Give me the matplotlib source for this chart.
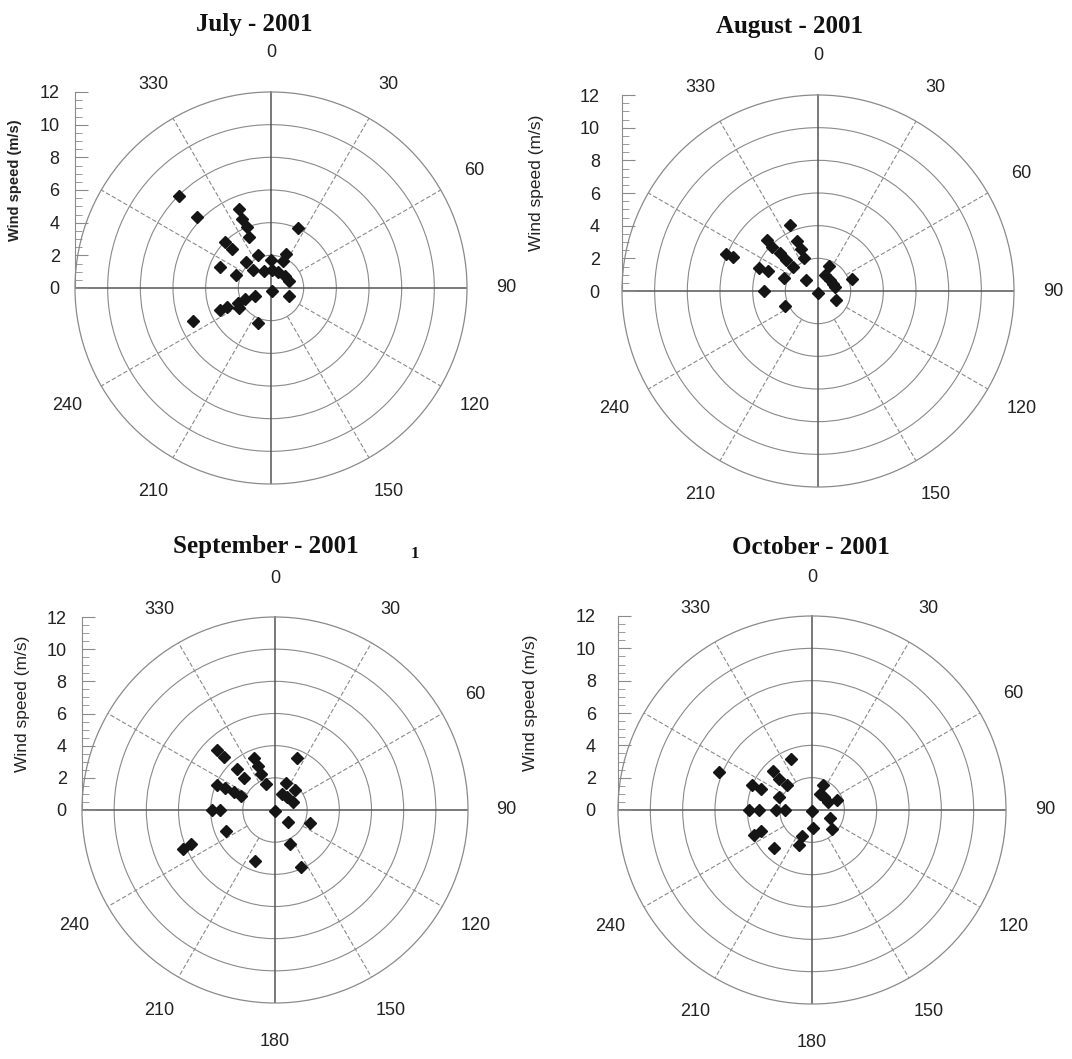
import numpy as np
import matplotlib.pyplot as plt

plt.rcParams['font.family'] = ['Liberation Sans', 'DejaVu Sans']

W, H = 1072, 1059

# wind direction (deg from north) and wind speed (m/s)
jul_dir = [315, 314, 338, 337, 338, 337, 315, 315, 24, 338, 24, 24, 1, 316,
           315, 292, 291, 338, 2, 24, 50, 69, 170, 114, 244, 247, 246, 238,
           247, 247, 247, 201]
jul_speed = [8.0, 6.3, 5.2, 4.6, 4.0, 3.4, 4.0, 3.4, 4.0, 2.2, 2.3, 1.8, 1.7,
             2.2, 1.6, 3.4, 2.3, 1.1, 1.1, 1.1, 1.1, 1.2, 0.2, 1.2, 1.1, 1.7,
             2.2, 2.3, 2.9, 3.4, 5.2, 2.3]

aug_dir = [337, 315, 314, 315, 314, 314, 337, 338, 337, 292, 292, 291, 292,
           291, 313, 24, 24, 47, 63, 76, 70, 270, 180, 116, 246]
aug_speed = [4.4, 4.4, 3.9, 3.3, 2.7, 2.1, 3.3, 2.8, 2.2, 6.1, 5.6, 3.9, 3.3,
             2.2, 1.0, 1.7, 1.1, 1.0, 1.0, 1.1, 2.2, 3.3, 0.1, 1.2, 2.2]

sep_dir = [316, 316, 338, 339, 339, 340, 317, 316, 293, 294, 293, 293, 23,
           23, 45, 25, 43, 67, 270, 270, 180, 133, 111, 247, 247, 248, 156,
           202, 156]
sep_speed = [5.2, 4.6, 3.5, 2.9, 2.4, 1.7, 3.5, 2.8, 3.9, 3.4, 2.8, 2.3, 3.5,
             1.8, 1.8, 1.1, 1.1, 1.2, 3.9, 3.4, 0.05, 1.1, 2.3, 3.3, 6.2, 5.6,
             2.3, 3.4, 3.9]

oct_dir = [338, 292, 315, 314, 315, 293, 292, 291, 270, 270, 270, 270, 180,
           23, 25, 44, 63, 68, 114, 134, 177, 201, 201, 247, 247, 225]
oct_speed = [3.4, 6.2, 3.4, 2.8, 2.2, 4.0, 3.4, 2.2, 3.9, 3.3, 2.2, 1.7, 0.05,
             1.7, 1.1, 1.1, 1.1, 1.7, 1.2, 1.7, 1.1, 1.7, 2.3, 3.9, 3.4, 3.3]

titles = ["July - 2001", "August - 2001", "September - 2001", "October - 2001"]
directions = [jul_dir, aug_dir, sep_dir, oct_dir]
speeds = [jul_speed, aug_speed, sep_speed, oct_speed]

rings = [2, 4, 6, 8, 10, 12]
angle_ticks = [0, 30, 60, 90, 120, 150, 180, 210, 240, 330]

# layout in pixels: centre x, centre y, radius, title pos, ylabel x, tick pad
layout = [
    dict(cx=271, cy=288, R=196, tx=254, ty=24, lx=15, pad=11, bold=True, lab180=False),
    dict(cx=818, cy=291, R=196, tx=790, ty=26, lx=537, pad=16, bold=False, lab180=False),
    dict(cx=275, cy=810, R=193, tx=266, ty=546, lx=23, pad=11, bold=False, lab180=True),
    dict(cx=812, cy=810, R=194, tx=811, ty=547, lx=530, pad=16, bold=False, lab180=True),
]

fig = plt.figure(figsize=(W / 100, H / 100), dpi=100)
fig.patch.set_facecolor('white')

for i in range(4):
    L = layout[i]
    cx, cy, R = L['cx'], L['cy'], L['R']

    ax = fig.add_axes([(cx - R) / W, 1 - (cy + R) / H, 2 * R / W, 2 * R / H],
                      projection='polar')
    ax.set_theta_zero_location('N')
    ax.set_theta_direction(-1)
    ax.set_ylim(0, 12)
    ax.set_xticks([])
    ax.set_rgrids(rings[:-1], labels=[])
    ax.grid(axis='y', color='#8a8a8a', lw=0.8)
    ax.spines['polar'].set_color('#8a8a8a')
    ax.spines['polar'].set_linewidth(0.9)
    ax.patch.set_alpha(0)

    # spokes: dashed every 30 deg, solid cross on the cardinal directions
    for a in range(0, 360, 30):
        t = np.deg2rad(a)
        if a % 90 == 0:
            ax.plot([t, t], [0, 12], color='#555555', lw=1.1, zorder=2)
        else:
            ax.plot([t, t], [2, 12], color='#8a8a8a', lw=0.8,
                    ls=(0, (4, 2)), zorder=2)

    for a in angle_ticks:
        if a == 180 and not L['lab180']:
            continue
        ax.text(np.deg2rad(a), 14.4, str(a), ha='center', va='center',
                fontsize=13, color='#222222', clip_on=False)

    ax.plot(np.deg2rad(directions[i]), speeds[i], 'D', color='#151515',
            ms=6.5, zorder=5, clip_on=False)

    # radial scale drawn as a separate left axis
    ax2 = fig.add_axes([(cx - R) / W, 1 - cy / H, 0.001, R / H])
    ax2.set_ylim(0, 12)
    ax2.set_xticks([])
    ax2.set_yticks(np.arange(0, 13, 2))
    ax2.set_yticks(np.arange(0, 12.5, 0.5), minor=True)
    for s in ['top', 'right', 'bottom']:
        ax2.spines[s].set_visible(False)
    ax2.spines['left'].set_color('#8a8a8a')
    ax2.tick_params(axis='y', which='major', direction='in', length=9,
                    color='#8a8a8a', labelsize=13, labelcolor='#222222',
                    pad=L['pad'])
    ax2.tick_params(axis='y', which='minor', direction='in', length=5,
                    color='#8a8a8a')
    ax2.patch.set_alpha(0)

    fig.text(L['lx'] / W, 1 - (cy - R * 0.55) / H, "Wind speed (m/s)",
             rotation=90, ha='center', va='center',
             fontsize=10.5 if L['bold'] else 12.5,
             fontweight='bold' if L['bold'] else 'normal', color='#222222')

    fig.text(L['tx'] / W, 1 - L['ty'] / H, titles[i], ha='center',
             va='center', fontsize=18, fontweight='bold',
             family='Liberation Serif', color='#111111')

fig.text(415 / W, 1 - 554 / H, "1", ha='center', va='center', fontsize=12,
         fontweight='bold', family='Liberation Serif', color='#111111')

fig.savefig('out.png', dpi=100)
